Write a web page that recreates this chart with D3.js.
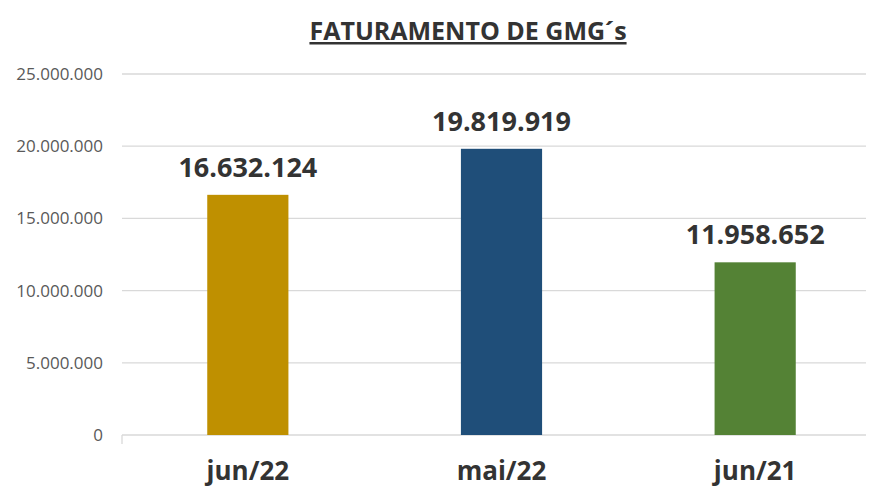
<!DOCTYPE html>
<html>
<head>
<meta charset="utf-8">
<script src="https://cdn.jsdelivr.net/npm/d3@7"></script>
<style>
  body { margin: 0; background: #fff; }
  svg { display: block; font-family: 'Open Sans', 'Noto Sans', sans-serif; }
</style>
</head>
<body>
<div id="chart"></div>
<script>
'use strict';

// data
const categories = ['jun/22', 'mai/22', 'jun/21'];
const values = [16632124, 19819919, 11958652];
const barColors = ['#BF9000', '#1F4E79', '#548235'];
const yTicks = [0, 5000000, 10000000, 15000000, 20000000, 25000000];
const title = 'FATURAMENTO DE GMG´s';

const width = 869, height = 488;
const margin = { top: 74, right: 0, bottom: 53, left: 122 };
const plotRight = 866;

var svg = d3.select('#chart').append('svg')
	.attr('width', width)
	.attr('height', height);

var xScale = d3.scaleBand()
	.domain(categories)
	.range([121, 882])
	.paddingInner(0.68)
	.paddingOuter(0.34);

var yScale = d3.scaleLinear()
	.domain([0, 25000000])
	.range([height - margin.bottom, margin.top]);

var fmt = function(v) {
	return d3.format(',')(v).replace(/,/g, '.');
};

// gridlines
svg.append('g').selectAll('line')
	.data(yTicks)
	.enter().append('line')
	.attr('x1', margin.left)
	.attr('x2', plotRight)
	.attr('y1', function(d){ return yScale(d); })
	.attr('y2', function(d){ return yScale(d); })
	.style('stroke', '#d9d9d9')
	.style('stroke-width', 1.3);

// y labels
svg.append('g').selectAll('text')
	.data(yTicks)
	.enter().append('text')
	.attr('x', 103)
	.attr('y', function(d){ return yScale(d); })
	.attr('dy', '0.35em')
	.style('text-anchor', 'end')
	.style('font-size', '17px')
	.style('fill', '#595959')
	.text(function(d){ return fmt(d); });

// small tick at the left end of the x axis
svg.append('line')
	.attr('x1', margin.left)
	.attr('x2', margin.left)
	.attr('y1', yScale(0))
	.attr('y2', yScale(0) + 9)
	.style('stroke', '#d9d9d9')
	.style('stroke-width', 1.3);

// bars
svg.append('g').selectAll('rect')
	.data(values)
	.enter().append('rect')
	.attr('x', function(d, i){ return xScale(categories[i]); })
	.attr('width', xScale.bandwidth())
	.attr('y', function(d){ return yScale(d); })
	.attr('height', function(d){ return yScale(0) - yScale(d); })
	.style('fill', function(d, i){ return barColors[i]; });

// value labels
svg.append('g').selectAll('text')
	.data(values)
	.enter().append('text')
	.attr('x', function(d, i){ return xScale(categories[i]) + xScale.bandwidth() / 2; })
	.attr('y', function(d){ return yScale(d) - 18; })
	.style('text-anchor', 'middle')
	.style('font-size', '27px')
	.style('font-weight', 'bold')
	.style('fill', '#333')
	.text(function(d){ return fmt(d); });

// category labels
svg.append('g').selectAll('text')
	.data(categories)
	.enter().append('text')
	.attr('x', function(d){ return xScale(d) + xScale.bandwidth() / 2; })
	.attr('y', 480)
	.style('text-anchor', 'middle')
	.style('font-size', '26px')
	.style('font-weight', 'bold')
	.style('fill', '#333')
	.text(function(d){ return d; });

// title
svg.append('text')
	.attr('x', 468)
	.attr('y', 40)
	.style('text-anchor', 'middle')
	.style('font-size', '25px')
	.style('font-weight', 'bold')
	.style('fill', '#333')
	.style('text-decoration', 'underline')
	.text(title);
</script>
</body>
</html>
